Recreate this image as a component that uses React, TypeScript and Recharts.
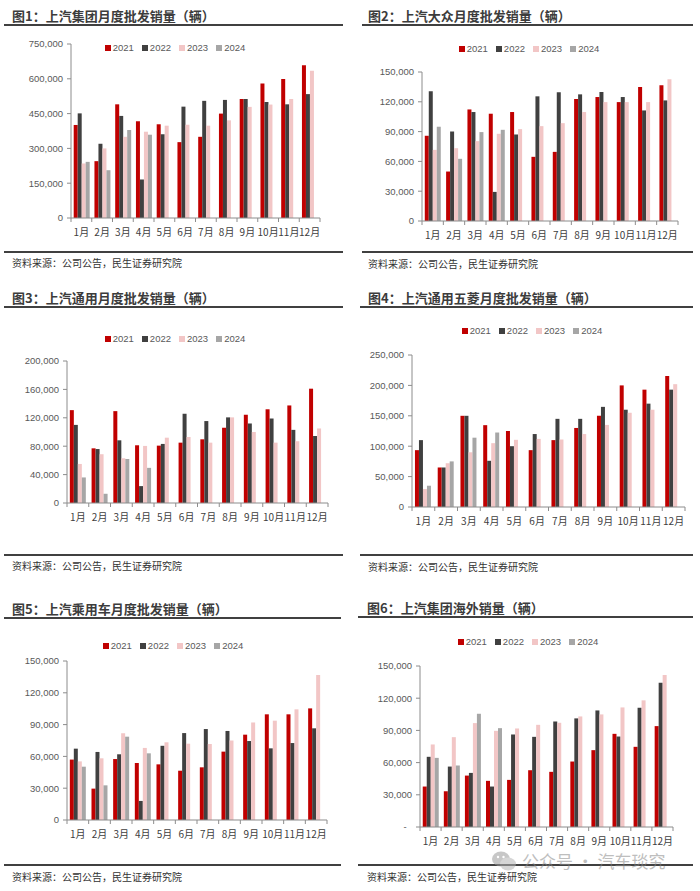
import React from 'react';
import { BarChart, Bar, XAxis, YAxis, Legend } from 'recharts';

const months = ['1月', '2月', '3月', '4月', '5月', '6月', '7月', '8月', '9月', '10月', '11月', '12月'];
const seriesYears = ['2021', '2022', '2023', '2024'];
const seriesColors = ['#C00000', '#404040', '#F2C6C6', '#A6A6A6'];

// 图1 上汽集团月度批发销量
const group2021 = [401000, 245000, 490000, 417000, 404000, 327000, 350000, 450000, 513000, 580000, 599000, 658000];
const group2022 = [451000, 320000, 440000, 166000, 361000, 480000, 505000, 509000, 513000, 500000, 490000, 534000];
const group2023 = [235000, 300000, 350000, 372000, 398000, 402000, 398000, 421000, 479000, 489000, 513000, 635000];
const group2024 = [242000, 206000, 379000, 359000, null, null, null, null, null, null, null, null];
const groupTicks = [0, 150000, 300000, 450000, 600000, 750000];

// 图2 上汽大众
const vw2021 = [85800, 49800, 112300, 108000, 109700, 64600, 69600, 122800, 124800, 119700, 134900, 136600];
const vw2022 = [130500, 90100, 109700, 29300, 87100, 125500, 129500, 127500, 129800, 124800, 111300, 121400];
const vw2023 = [71600, 73300, 80400, 87800, 92500, 95500, 98500, 109700, 119700, 119700, 119700, 142600];
const vw2024 = [94900, 62600, 89500, 91800, null, null, null, null, null, null, null, null];
const vwTicks = [0, 30000, 60000, 90000, 120000, 150000];

// 图3 上汽通用
const gm2021 = [130800, 77000, 129400, 81300, 80800, 85000, 89700, 106000, 124300, 132000, 137400, 161000];
const gm2022 = [110000, 76000, 88300, 23800, 83200, 125700, 115400, 120600, 112000, 119000, 103000, 94400];
const gm2023 = [55000, 68700, 63000, 80400, 92000, 93000, 85000, 120600, 100000, 85000, 87000, 105000];
const gm2024 = [36000, 13000, 62000, 49500, null, null, null, null, null, null, null, null];
const gmTicks = [0, 40000, 80000, 120000, 160000, 200000];

// 图4 上汽通用五菱
const wl2021 = [93500, 65000, 150000, 134600, 125000, 93500, 110000, 130000, 150000, 200000, 193000, 215500];
const wl2022 = [110000, 65000, 150000, 76000, 100000, 120000, 145000, 145000, 164700, 160000, 170000, 193000];
const wl2023 = [29500, 72000, 90000, 105000, 110500, 112000, 111000, 120000, 135000, 155000, 160000, 202000];
const wl2024 = [35000, 75000, 114000, 122500, null, null, null, null, null, null, null, null];
const wlTicks = [0, 50000, 100000, 150000, 200000, 250000];

// 图5 上汽乘用车
const pv2021 = [57000, 29600, 57500, 53800, 52500, 46500, 49700, 64500, 80500, 99700, 99700, 105300];
const pv2022 = [67300, 64200, 62000, 18000, 70000, 82000, 85800, 84000, 74500, 67600, 72600, 86500];
const pv2023 = [55300, 58200, 81800, 68000, 73300, 72000, 71700, 75000, 92000, 93700, 104400, 136800];
const pv2024 = [50300, 32700, 78600, 62900, null, null, null, null, null, null, null, null];
const pvTicks = [0, 30000, 60000, 90000, 120000, 150000];

// 图6 上汽集团海外销量
const ov2021 = [37700, 33300, 47900, 43000, 43900, 52900, 51400, 61000, 71600, 86800, 74700, 94000];
const ov2022 = [65400, 56300, 50400, 37700, 86200, 84000, 98300, 101200, 108600, 84300, 111100, 134500];
const ov2023 = [76900, 83700, 96800, 89600, 91800, 95200, 97100, 103000, 104900, 111400, 118000, 141600];
const ov2024 = [64400, 57300, 105500, 92100, null, null, null, null, null, null, null, null];
const ovTicks = [0, 30000, 60000, 90000, 120000, 150000];

const titles = [
  '图1：上汽集团月度批发销量（辆）',
  '图2：上汽大众月度批发销量（辆）',
  '图3：上汽通用月度批发销量（辆）',
  '图4：上汽通用五菱月度批发销量（辆）',
  '图5：上汽乘用车月度批发销量（辆）',
  '图6：上汽集团海外销量（辆）',
];
const sourceText = '资料来源：公司公告，民生证券研究院';
const watermarkText = '公众号 · 汽车琰究';

const panelSeries = [
  [group2021, group2022, group2023, group2024],
  [vw2021, vw2022, vw2023, vw2024],
  [gm2021, gm2022, gm2023, gm2024],
  [wl2021, wl2022, wl2023, wl2024],
  [pv2021, pv2022, pv2023, pv2024],
  [ov2021, ov2022, ov2023, ov2024],
];
const panelTicks = [groupTicks, vwTicks, gmTicks, wlTicks, pvTicks, ovTicks];

// layout (page coordinates)
const layouts = [
  { plot: { l: 71, t: 44, r: 320, b: 218 }, legend: { cx: 175, cy: 48 }, titleX: 12, topY: 25, x1: 4, x2: 343, botY: 252, srcX: 12, srcY: 263, dash: false },
  { plot: { l: 422, t: 72, r: 678, b: 221 }, legend: { cx: 529, cy: 49 }, titleX: 368, topY: 25, x1: 362, x2: 693, botY: 252, srcX: 368, srcY: 264, dash: false },
  { plot: { l: 67, t: 361, r: 328, b: 503 }, legend: { cx: 175, cy: 339 }, titleX: 12, topY: 307, x1: 4, x2: 343, botY: 555, srcX: 12, srcY: 566, dash: false },
  { plot: { l: 412, t: 355, r: 685, b: 507 }, legend: { cx: 532, cy: 331 }, titleX: 368, topY: 307, x1: 360, x2: 693, botY: 555, srcX: 368, srcY: 567, dash: false },
  { plot: { l: 67, t: 661, r: 327, b: 820 }, legend: { cx: 173, cy: 646 }, titleX: 12, topY: 618, x1: 4, x2: 341, botY: 865, srcX: 12, srcY: 877, dash: false },
  { plot: { l: 420, t: 666, r: 673, b: 827 }, legend: { cx: 528, cy: 642 }, titleX: 367, topY: 617, x1: 358, x2: 693, botY: 865, srcX: 367, srcY: 877, dash: true },
];

const CJK = '"Noto Sans CJK SC", "Noto Sans", sans-serif';
const NUM = '"Liberation Sans", Arial, sans-serif';
const AXIS = '#8c8c8c';

const MonthTick = (props: any) => {
  const { x, payload, index, bw, axisY } = props;
  return (
    <g>
      <line x1={x - bw / 2} x2={x - bw / 2} y1={axisY} y2={axisY + 4} stroke={AXIS} />
      {index === 11 && <line x1={x + bw / 2} x2={x + bw / 2} y1={axisY} y2={axisY + 4} stroke={AXIS} />}
      <text x={x} y={axisY + 13} textAnchor="middle" dominantBaseline="central" fontSize={10} fill="#404040" fontFamily={CJK}>
        {payload.value}
      </text>
    </g>
  );
};

const LegendRow = () => (
  <div style={{ display: 'flex', justifyContent: 'center', alignItems: 'center', height: 14 }}>
    {seriesYears.map((y, k) => (
      <div key={y} style={{ display: 'flex', alignItems: 'center', margin: '0 4px' }}>
        <span style={{ display: 'inline-block', width: 6, height: 6, background: seriesColors[k], marginRight: 2 }} />
        <span style={{ fontSize: 9.5, color: '#595959', fontFamily: NUM, lineHeight: '14px' }}>{y}</span>
      </div>
    ))}
  </div>
);

const Panel = ({ idx }: { idx: number }) => {
  const L = layouts[idx];
  const series = panelSeries[idx];
  const ticks = panelTicks[idx];
  const { plot } = L;
  const ML = 70, MT = 35, MR = 10, XH = 30;
  const width = plot.r - plot.l + ML + MR;
  const height = plot.b - plot.t + MT + XH;
  const left = plot.l - ML;
  const top = plot.t - MT;
  const bw = (plot.r - plot.l) / 12;
  const axisY = MT + plot.b - plot.t;
  const rows = months.map((m, i) => {
    const row: any = { month: m };
    seriesYears.forEach((y, k) => { row['y' + y] = series[k][i]; });
    return row;
  });
  const fmt = (v: number) => (v === 0 && L.dash ? '-\u00a0\u00a0' : v.toLocaleString('en-US'));
  return (
    <>
      <div style={{ position: 'absolute', left: L.titleX, top: L.topY - 17, fontFamily: CJK, fontWeight: 700, fontSize: 13, lineHeight: '16px', color: '#3c3c3c', whiteSpace: 'nowrap' }}>
        {titles[idx]}
      </div>
      <div style={{ position: 'absolute', left: L.x1, top: L.topY - 1, width: L.x2 - L.x1, height: 2, background: '#404040' }} />
      <div style={{ position: 'absolute', left, top }}>
        <BarChart width={width} height={height} data={rows} margin={{ top: MT, right: MR, left: 0, bottom: 0 }} barCategoryGap="13%" barGap={0}>
          <XAxis
            dataKey="month"
            height={XH}
            interval={0}
            tickLine={false}
            axisLine={{ stroke: AXIS }}
            tick={(p: any) => <MonthTick {...p} bw={bw} axisY={axisY} />}
          />
          <YAxis
            width={ML}
            domain={[0, ticks[ticks.length - 1]]}
            ticks={ticks}
            interval={0}
            tickSize={4}
            tickMargin={4}
            tickLine={{ stroke: AXIS }}
            axisLine={{ stroke: AXIS }}
            tick={{ fill: '#595959', fontSize: 9.5, fontFamily: NUM }}
            tickFormatter={fmt}
          />
          <Legend
            verticalAlign="middle"
            align="center"
            layout="horizontal"
            wrapperStyle={{ top: L.legend.cy - top - 7, left: L.legend.cx - left - 90, width: 180, height: 14 }}
            content={() => <LegendRow />}
          />
          {seriesYears.map((y, k) => (
            <Bar key={y} dataKey={'y' + y} name={y} fill={seriesColors[k]} isAnimationActive={false} />
          ))}
        </BarChart>
      </div>
      <div style={{ position: 'absolute', left: L.x1, top: L.botY - 1, width: L.x2 - L.x1, height: 2, background: '#404040' }} />
      <div style={{ position: 'absolute', left: L.srcX, top: L.srcY - 7, fontFamily: CJK, fontSize: 10, lineHeight: '14px', color: '#333', whiteSpace: 'nowrap' }}>
        {sourceText}
      </div>
    </>
  );
};

export default function App() {
  return (
    <div style={{ position: 'absolute', left: 0, top: 0, width: 700, height: 891, background: '#fff', overflow: 'hidden' }}>
      {layouts.map((_, i) => <Panel key={i} idx={i} />)}
      <div style={{ position: 'absolute', left: 491, top: 850, display: 'flex', alignItems: 'center', opacity: 0.55, pointerEvents: 'none' }}>
        <svg width={26} height={22} viewBox="0 0 26 22">
          <ellipse cx={10} cy={9} rx={9} ry={7.5} fill="#9a9a9a" />
          <ellipse cx={17} cy={14} rx={8} ry={6.5} fill="#b5b5b5" />
          <circle cx={7} cy={7} r={1.2} fill="#fff" />
          <circle cx={12.5} cy={7} r={1.2} fill="#fff" />
        </svg>
        <span style={{ marginLeft: 5, fontFamily: CJK, fontSize: 17, color: '#8a8a8a', whiteSpace: 'nowrap', lineHeight: '22px' }}>{watermarkText}</span>
      </div>
    </div>
  );
}
